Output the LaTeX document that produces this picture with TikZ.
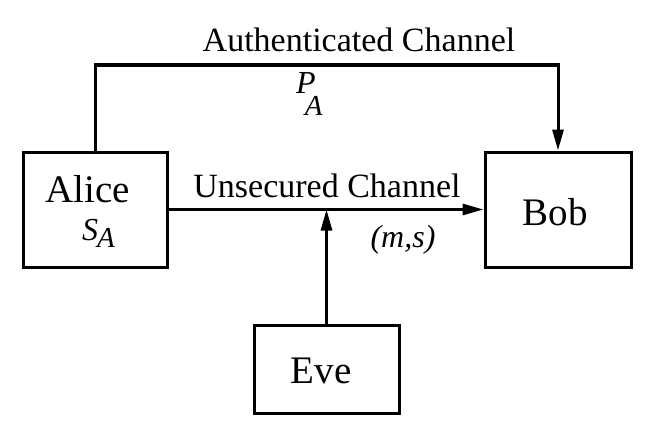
\documentclass[tikz,border=0pt]{standalone}
\usepackage{fontspec}
\setmainfont{Liberation Serif}
\usetikzlibrary{arrows.meta}
\newcommand{\subA}{\fontsize{29}{34}\selectfont A}
\begin{document}
\begin{tikzpicture}[x=1pt,y=-1pt,
  box/.style={draw,line width=3pt,inner sep=0pt},
  big/.style={font=\fontsize{39}{44}\selectfont,inner sep=0pt,anchor=base},
  chan/.style={font=\fontsize{34}{40}\selectfont,inner sep=0pt,anchor=base},
  sym/.style={font=\fontsize{32}{38}\selectfont\itshape,inner sep=0pt,anchor=base west},
  arr/.style={line width=3pt,-{Triangle[length=21pt,width=11pt]}}]
\useasboundingbox (0,0) rectangle (658,428);
% boxes
\node[box,minimum width=144pt,minimum height=115pt] (alice) at (95,209.5) {};
\node[box,minimum width=146pt,minimum height=115pt] (bob) at (558,209.5) {};
\node[box,minimum width=145pt,minimum height=88pt] (eve) at (326.5,369) {};
% box labels
\node[big] (alicet) at (88,202) {Alice};
\node[sym] (sa) at (82,240) {S\kern-1pt\raisebox{-7pt}{\subA}};
\node[big] (bobt) at (555,225) {Bob};
\node[big] (evet) at (321,383) {Eve};
% channel labels
\node[chan] (auth) at (359,52) {Authenticated Channel};
\node[chan] (unsec) at (327,197) {Unsecured Channel};
\node[sym,anchor=base] (ms) at (403,247) {(m,s)};
\node[sym] (pa) at (296,93) {P\kern-11pt\raisebox{-22pt}{\subA}};
% connectors
\coordinate (c1) at (alice.north |- 0,65);
\coordinate (c2) at (bob.north |- 0,65);
\draw[arr] (alice.north) -- (c1) -- (c2) -- (bob.north);
\draw[arr] (alice.east) -- (bob.west);
\coordinate (hit) at (eve.north |- alice.east);
\draw[arr] (eve.north) -- (hit);
\end{tikzpicture}
\end{document}
